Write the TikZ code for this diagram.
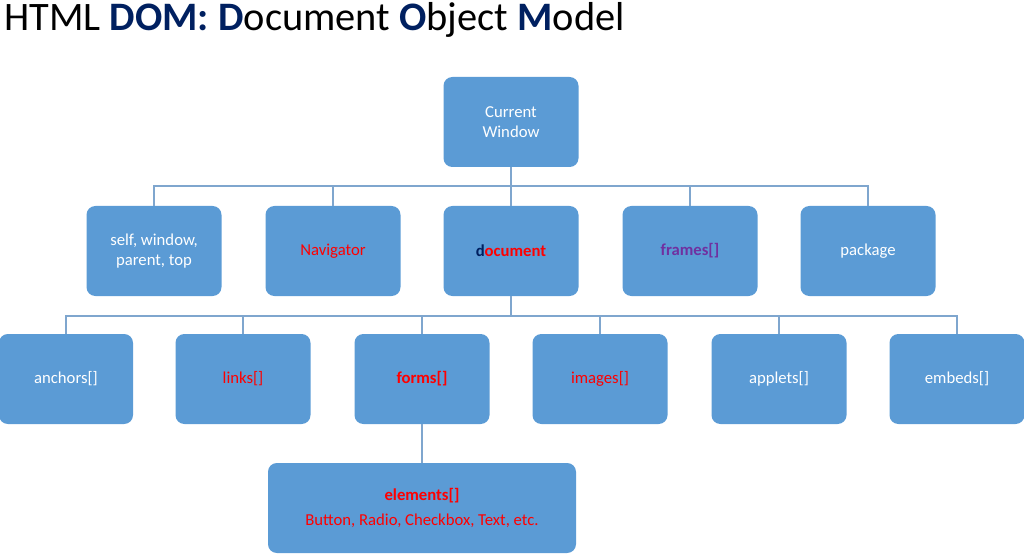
\documentclass[tikz,border=0pt]{standalone}
\usepackage{fontspec}
\setmainfont{Carlito}
\usetikzlibrary{positioning}
\definecolor{boxblue}{HTML}{5B9BD5}
\definecolor{linkblue}{HTML}{7FA6CE}
\definecolor{navy}{HTML}{002060}
\definecolor{purp}{HTML}{7030A0}
\tikzset{box/.style={draw=none, fill=boxblue, rounded corners=5pt, text=white, align=center, font=\fontsize{9.5}{11.5}\selectfont, minimum width=135*0.02cm, minimum height=90*0.02cm, inner sep=0pt},
  link/.style={draw=linkblue, line width=0.6pt}}
\begin{document}
\begin{tikzpicture}[x=0.02cm, y=-0.02cm]
    \useasboundingbox (0,0) rectangle (1024,557);
    % Title
    \node[anchor=west, font=\fontsize{23}{26}\selectfont, inner sep=0pt] (title) at (4,20) {HTML \textbf{\color{navy}DOM:} \textbf{\color{navy}D}ocument \textbf{\color{navy}O}bject \textbf{\color{navy}M}odel};
    % Root
    \node[box] (cw) at (511,122) {Current\\Window};
    % Second row
    \node[box] (self) at (154,251) {self, window,\\parent, top};
    \node[box] (nav) at (333,251) {\color{red}Navigator};
    \node[box] (doc) at (511,251) {\textbf{\color{navy}d\color{red}ocument}};
    \node[box] (frm) at (690,251) {\textbf{\color{purp}frames[]}};
    \node[box] (pkg) at (868,251) {package};
    % Third row
    \node[box, minimum width=134*0.02cm] (anc) at (66,379) {anchors[]};
    \node[box] (lnk) at (243,379) {\color{red}links[]};
    \node[box] (forms) at (422,379) {\textbf{\color{red}forms[]}};
    \node[box] (img) at (600,379) {\color{red}images[]};
    \node[box] (app) at (779,379) {applets[]};
    \node[box] (emb) at (957,379) {embeds[]};
    % Elements
    \node[box, minimum width=308*0.02cm] (elem) at (422,508) {\textbf{\color{red}elements[]}\\[3pt]\color{red}Button, Radio, Checkbox, Text, etc.};
    % Connectors
    \coordinate (bus1) at (511,186);
    \coordinate (bus2) at (511,316);
    \draw[link] (cw.south) -- (bus1);
    \foreach \n in {self, nav, doc, frm, pkg}
        \draw[link] (bus1) -| (\n.north);
    \draw[link] (doc.south) -- (bus2);
    \foreach \n in {anc, lnk, forms, img, app, emb}
        \draw[link] (bus2) -| (\n.north);
    \draw[link] (forms.south) -- (elem.north);
\end{tikzpicture}
\end{document}
